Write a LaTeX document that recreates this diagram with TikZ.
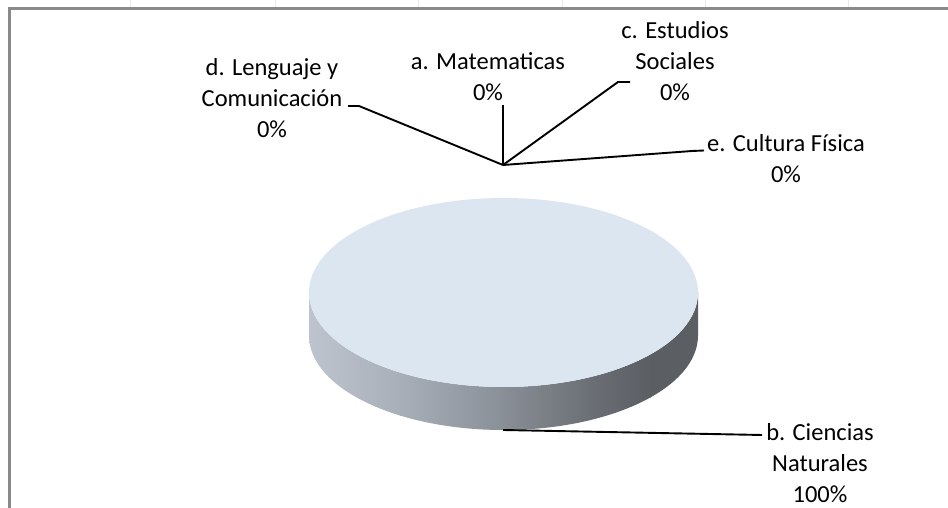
\documentclass[tikz,border=0pt]{standalone}
\usepackage{fontspec}
\setmainfont{Carlito}
\definecolor{framegray}{HTML}{8A8A8A}
\definecolor{gridgray}{HTML}{E8E8E8}
\definecolor{topblue}{HTML}{DCE6F1}
\definecolor{sa}{HTML}{BEC5CE}
\definecolor{sb}{HTML}{A8AFB8}
\definecolor{sc}{HTML}{8A9098}
\definecolor{sd}{HTML}{6B6F75}
\definecolor{se}{HTML}{5B5E63}
\begin{document}
\begin{tikzpicture}[x=1pt,y=1pt,
  lbl/.style={font=\fontsize{24.5}{31}\selectfont, align=center, inner sep=0pt, text=black},
  leader/.style={line width=1.9pt, draw=black},
  frameline/.style={line width=3pt, draw=framegray, line join=miter},
  gridline/.style={line width=0.6pt, draw=gridgray}]
\useasboundingbox (0,0) rectangle (948,508);
\fill[white] (0,0) rectangle (948,508);
% spreadsheet grid ticks above the frame
\foreach \gx in {130,275,418,562,705,848} \draw[gridline] (\gx,508) -- (\gx,500);
% chart frame
\draw[frameline] (9,-2) -- (9,499) -- (950,499);
% pie side
\begin{scope}
\clip (309,215.5) -- (309,172.5)
  arc[start angle=180, end angle=360, x radius=194.5pt, y radius=94.5pt]
  -- (698,215.5)
  arc[start angle=0, end angle=-180, x radius=194.5pt, y radius=94.5pt] -- cycle;
\shade[left color=sa, right color=sb] (305,70) rectangle (401,220);
\shade[left color=sb, right color=sc] (400,70) rectangle (501,220);
\shade[left color=sc, right color=sd] (500,70) rectangle (591,220);
\shade[left color=sd, right color=se] (590,70) rectangle (651,220);
\fill[se] (650,70) rectangle (702,220);
\end{scope}
% pie top
\fill[topblue] (503.5,215.5) ellipse[x radius=194.5pt, y radius=94.5pt];
% labels
\node[lbl] (la) at (488,431) {a. Matematicas\\0\%};
\node[lbl] (lb) at (820,45) {b. Ciencias\\Naturales\\100\%};
\node[lbl] (lc) at (675,447) {c. Estudios\\Sociales\\0\%};
\node[lbl] (ld) at (272,410) {d. Lenguaje y\\Comunicación\\0\%};
\node[lbl] (le) at (786,349.5) {e. Cultura Física\\0\%};
% leader coordinates
\coordinate (hub) at (503,343);
\coordinate (aend) at (503,403);
\coordinate (dk) at (359,402);
\coordinate (dend) at (348,402);
\coordinate (ck) at (618,426);
\coordinate (cend) at (630,426);
\coordinate (ek) at (692,357);
\coordinate (eend) at (704,357.5);
\coordinate (pieb) at (503,78);
\coordinate (bend) at (762,73);
% leaders
\draw[leader] (hub) -- (aend);
\draw[leader] (hub) -- (dk) -- (dend);
\draw[leader] (hub) -- (ck) -- (cend);
\draw[leader] (hub) -- (ek) -- (eend);
\draw[leader] (pieb) -- (bend);
\end{tikzpicture}
\end{document}
